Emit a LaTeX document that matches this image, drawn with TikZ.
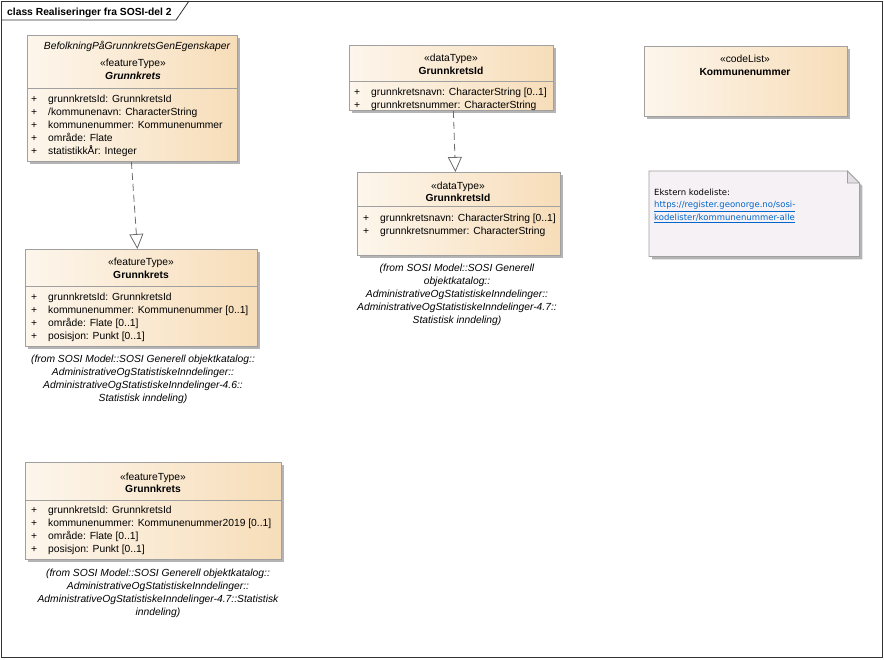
\documentclass[tikz,border=0pt]{standalone}
\usepackage{fontspec}
\setmainfont{Liberation Sans}
\newfontfamily\notefont{DejaVu Sans}
\usetikzlibrary{arrows.meta,shadows}
\definecolor{clsL}{HTML}{FDF6EC}
\definecolor{clsR}{HTML}{F7DDB9}
\definecolor{bord}{HTML}{A0A0A0}
\definecolor{shad}{HTML}{B4B4B4}
\definecolor{notefill}{HTML}{F5F1F5}
\definecolor{foldfill}{HTML}{E2DEE2}
\definecolor{linkblue}{HTML}{0066CC}
\definecolor{conn}{HTML}{6A6A6A}
\newcommand\cfont{\fontsize{10.3}{13}\selectfont}
\newcommand\nfont{\fontsize{8.5}{12.5}\selectfont\notefont}
\begin{document}
\begin{tikzpicture}[x=1pt,y=-1pt,
  cls/.style={draw=bord, line width=0.8pt, left color=clsL, right color=clsR, anchor=north west, inner sep=0pt,
    drop shadow={shadow xshift=3pt,shadow yshift=-3pt,fill=shad,opacity=1}},
  sep/.style={draw=bord, line width=0.8pt},
  lbl/.style={inner sep=0pt, anchor=base, font=\cfont},
  attrs/.style={inner sep=0pt, anchor=north west, font=\cfont},
  frm/.style={inner sep=0pt, anchor=north, font=\cfont\itshape},
  dep/.style={draw=conn, line width=0.8pt, dash pattern=on 7pt off 4pt,
    -{Triangle[open, length=15pt, width=14pt]}},
]
\useasboundingbox (0,0) rectangle (884,659);
\fill[white] (0,0) rectangle (884,659);
% frame
\node[draw=black!80, line width=0.8pt, minimum width=881pt, minimum height=656pt, anchor=north west, inner sep=0pt] (frame) at (1,1) {};
\draw[black!80, line width=0.8pt] (frame.north west) ++(0,19) -- ++(175,0) -- ++(13,-19);
\node[anchor=base west, inner sep=0pt, font=\cfont\bfseries] (title) at (7,15) {class Realiseringer fra SOSI-del 2};

% ---------- class 1
\node[cls, minimum width=210pt, minimum height=126pt] (c1) at (27,35) {};
\draw[sep] ([yshift=-53pt]c1.north west) -- ([yshift=-53pt]c1.north east);
\node[lbl, font=\cfont\itshape] (c1p) at (137,49.5) {BefolkningPåGrunnkretsGenEgenskaper};
\node[lbl] (c1s) at (133,66.5) {«featureType»};
\node[lbl, font=\cfont\bfseries\itshape] (c1n) at (133,79.5) {Grunnkrets};
\node[attrs] (c1a) at (31,93.4) {\begin{tabular}{@{}l@{\hspace{11pt}}l@{}}
+ & grunnkretsId: GrunnkretsId\\
+ & /kommunenavn: CharacterString\\
+ & kommunenummer: Kommunenummer\\
+ & område: Flate\\
+ & statistikkÅr: Integer
\end{tabular}};

% ---------- class 2
\node[cls, minimum width=232pt, minimum height=97pt] (c2) at (25,249) {};
\draw[sep] ([yshift=-37pt]c2.north west) -- ([yshift=-37pt]c2.north east);
\node[lbl] (c2s) at (141,265.5) {«featureType»};
\node[lbl, font=\cfont\bfseries] (c2n) at (141,278.5) {Grunnkrets};
\node[attrs] (c2a) at (31,291.4) {\begin{tabular}{@{}l@{\hspace{11pt}}l@{}}
+ & grunnkretsId: GrunnkretsId\\
+ & kommunenummer: Kommunenummer [0..1]\\
+ & område: Flate [0..1]\\
+ & posisjon: Punkt [0..1]
\end{tabular}};
\node[frm] (c2f) at (143,353.4) {\begin{tabular}{@{}c@{}}
(from SOSI Model::SOSI Generell objektkatalog::\\
AdministrativeOgStatistiskeInndelinger::\\
AdministrativeOgStatistiskeInndelinger-4.6::\\
Statistisk inndeling)
\end{tabular}};

% ---------- class 3
\node[cls, minimum width=256pt, minimum height=97pt] (c3) at (25,462) {};
\draw[sep] ([yshift=-38pt]c3.north west) -- ([yshift=-38pt]c3.north east);
\node[lbl] (c3s) at (153,480) {«featureType»};
\node[lbl, font=\cfont\bfseries] (c3n) at (153,492) {Grunnkrets};
\node[attrs] (c3a) at (31,504.4) {\begin{tabular}{@{}l@{\hspace{11pt}}l@{}}
+ & grunnkretsId: GrunnkretsId\\
+ & kommunenummer: Kommunenummer2019 [0..1]\\
+ & område: Flate [0..1]\\
+ & posisjon: Punkt [0..1]
\end{tabular}};
\node[frm] (c3f) at (158,567.4) {\begin{tabular}{@{}c@{}}
(from SOSI Model::SOSI Generell objektkatalog::\\
AdministrativeOgStatistiskeInndelinger::\\
AdministrativeOgStatistiskeInndelinger-4.7::Statistisk\\
inndeling)
\end{tabular}};

% ---------- class 4
\node[cls, minimum width=204pt, minimum height=65pt] (c4) at (349,45) {};
\draw[sep] ([yshift=-36pt]c4.north west) -- ([yshift=-36pt]c4.north east);
\node[lbl] (c4s) at (451,61.5) {«dataType»};
\node[lbl, font=\cfont\bfseries] (c4n) at (451,74.5) {GrunnkretsId};
\node[attrs] (c4a) at (354,86.4) {\begin{tabular}{@{}l@{\hspace{11pt}}l@{}}
+ & grunnkretsnavn: CharacterString [0..1]\\
+ & grunnkretsnummer: CharacterString
\end{tabular}};

% ---------- class 5
\node[cls, minimum width=203pt, minimum height=83pt] (c5) at (357,172) {};
\draw[sep] ([yshift=-34pt]c5.north west) -- ([yshift=-34pt]c5.north east);
\node[lbl] (c5s) at (458,189.5) {«dataType»};
\node[lbl, font=\cfont\bfseries] (c5n) at (458,201.5) {GrunnkretsId};
\node[attrs] (c5a) at (363,212.4) {\begin{tabular}{@{}l@{\hspace{11pt}}l@{}}
+ & grunnkretsnavn: CharacterString [0..1]\\
+ & grunnkretsnummer: CharacterString
\end{tabular}};
\node[frm] (c5f) at (457,262.4) {\begin{tabular}{@{}c@{}}
(from SOSI Model::SOSI Generell\\
objektkatalog::\\
AdministrativeOgStatistiskeInndelinger::\\
AdministrativeOgStatistiskeInndelinger-4.7::\\
Statistisk inndeling)
\end{tabular}};

% ---------- class 6 (codeList)
\node[cls, minimum width=203pt, minimum height=70pt] (c6) at (644,46) {};
\node[lbl] (c6s) at (745,62.5) {«codeList»};
\node[lbl, font=\cfont\bfseries] (c6n) at (745,75.5) {Kommunenummer};

% ---------- note
\node[anchor=north west, minimum width=210pt, minimum height=85pt, inner sep=0pt] (n1) at (649,171) {};
\draw[draw=bord, line width=0.8pt, fill=notefill,
  drop shadow={shadow xshift=3pt,shadow yshift=-3pt,fill=shad,opacity=1}]
  (n1.north west) -- ([xshift=-12pt]n1.north east) -- ([yshift=-12pt]n1.north east)
  -- (n1.south east) -- (n1.south west) -- cycle;
\draw[draw=bord, line width=0.8pt, fill=foldfill]
  ([xshift=-12pt]n1.north east) -- ([xshift=-12pt,yshift=-12pt]n1.north east) -- ([yshift=-12pt]n1.north east) -- cycle;
\node[anchor=north west, inner sep=0pt, font=\nfont] (n1t) at (654,186.2) {\begin{tabular}{@{}l@{}}
Ekstern kodeliste:\\
\textcolor{linkblue}{\underline{https://register.geonorge.no/sosi-}}\\
\textcolor{linkblue}{\underline{kodelister/kommunenummer-alle}}
\end{tabular}};

% ---------- connectors
\draw[dep] ([xshift=-1pt]c1.south) -- ([xshift=-4pt]c2.north);
\draw[dep] ([xshift=2pt]c4.south) -- ([xshift=-3.5pt]c5.north);
\end{tikzpicture}
\end{document}
